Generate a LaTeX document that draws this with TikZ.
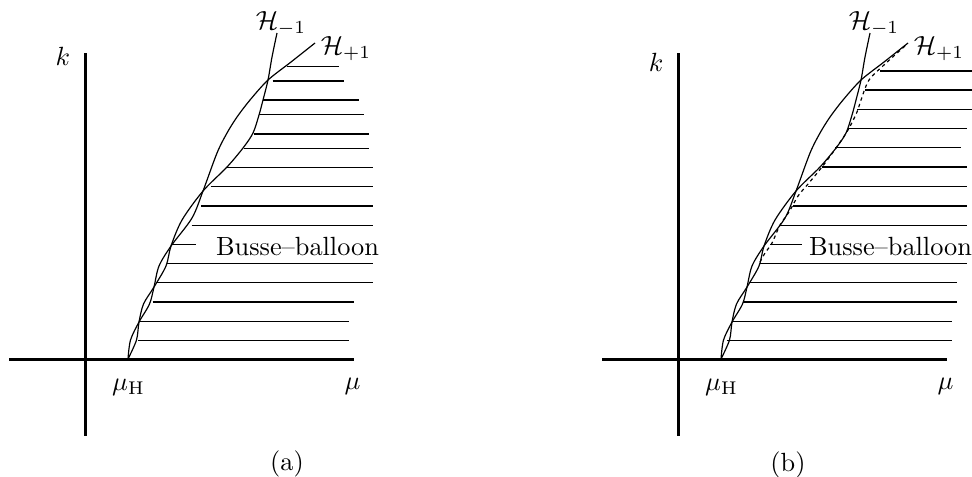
\documentclass[tikz,border=0pt]{standalone}
\usepackage{tikz}

\tikzset{
  axis/.style={line width=1.2pt},
  hcurve/.style={line width=0.45pt},
  hatch/.style={line width=0.45pt},
  edgecurve/.style={line width=0.45pt, dash pattern=on 1.3pt off 1.3pt}
}

\begin{document}
\begin{tikzpicture}[x=0.38pt,y=-0.38pt]
\useasboundingbox (0,0) rectangle (972,476);
% axes, labels and the two curves, once for each panel
\foreach \sx/\ky/\pn in {0/56/a,593/62/b}{
\begin{scope}[shift={(\sx,0)}]
\draw[axis] (85.5,53) -- (85.5,436);
\draw[axis] (9,359.3) -- (354,359.3);
\node (k\pn) at (63,\ky) {$k$};
\node (muH\pn) at (128.5,387) {$\mu_{\mathrm{H}}$};
\node (mu\pn) at (352.5,386) {$\mu$};
\draw[hcurve] plot[smooth] coordinates {(128,359) (130.5,340) (139,322) (149.5,304)
  (154,287) (159,266) (171,246) (192,218) (203,191) (217,153) (227,133) (237,117)
  (250,100) (268,80) (291,62) (315,43)};
\draw[hcurve] plot[smooth] coordinates {(128,359) (136.5,340) (139,322) (143.5,304)
  (154,287) (166,266) (171,246) (182,220) (203,191) (227,167) (243,148) (253,133)
  (259,115) (263,100) (268,80) (272,57) (277,33)};
\node (Hm\pn) at (281,24) {$\mathcal{H}_{-1}$};
\node (Hp\pn) at (346,49) {$\mathcal{H}_{+1}$};
\node[anchor=west,inner sep=0pt] (busse\pn) at (215.5,246.7) {Busse--balloon};
\end{scope}
}
% panel (a)
\foreach \y/\xl/\xr in {66.7/286.7/339.3, 81/272.7/344.3, 100/263.3/359,
  114.3/259.3/364, 134/254/368.7, 148.3/244.3/368.7, 167.3/226.7/373.3,
  186.7/210.7/373.3, 206/201.3/373.3, 225.3/191.7/373.3, 263.3/166.7/373.3,
  282.7/156.7/373.3, 302/152.7/354, 321.3/139.3/349.3, 340.3/138.3/349.3}
  \draw[hatch] (\xl,\y) -- (\xr,\y);
\draw[hatch] (170.7,244.3) -- (195.7,244.3);
\node (capa) at (287,464) {(a)};
% panel (b)
\begin{scope}[shift={(593,0)}]
\foreach \y/\xl/\xr in {71/287/379, 90/272/379, 109.3/264.3/379,
  128.3/255.3/373.7, 147.7/242/368, 167/228.7/373.7, 186.7/214.7/373.7,
  206/200.3/373.7, 225.3/187/373.7, 263.3/167/373.7, 282.7/157/363.7,
  302/150.3/363.7, 321.3/138.7/358.7, 340.3/133.7/358.7}
  \draw[hatch] (\xl,\y) -- (\xr,\y);
\draw[hatch] (177,244.3) -- (208.7,244.3);
\draw[edgecurve] plot[smooth] coordinates {(312,46) (292,64) (276,80) (268,100)
  (264,112) (255,130) (243,148) (229,167) (215,184) (205,196) (196,212) (187,225)
  (179,243) (172,253) (167,262)};
\end{scope}
\node (capb) at (788,465) {(b)};
\end{tikzpicture}
\end{document}
